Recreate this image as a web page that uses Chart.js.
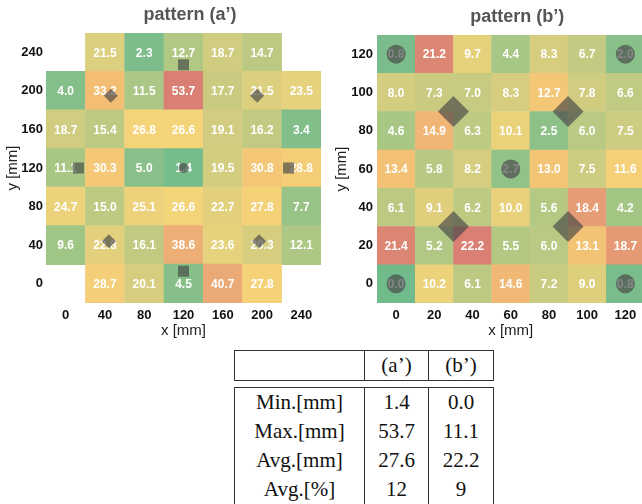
<!DOCTYPE html>
<html>
<head>
<meta charset="utf-8">
<script src="https://cdn.jsdelivr.net/npm/chart.js@4.4.1/dist/chart.umd.min.js"></script>
<style>
  html, body { margin: 0; padding: 0; background: #fff; overflow: hidden; width: 642px; height: 504px; }
  .panel { position: absolute; top: 0; }
  #wrapA { left: 0; width: 330px; height: 345px; }
  #wrapB { left: 320px; width: 340px; height: 345px; }
  table { position: absolute; border-collapse: collapse; font-family: "Liberation Serif", "DejaVu Serif", serif; font-size: 21px; color: #111; }
  td { border-left: 1.5px solid #333; border-right: 1.5px solid #333; text-align: center; padding: 0; height: 29px; line-height: 29px; }
  #tblHead { left: 234px; top: 350px; border: 1.5px solid #333; }
  #tblBody { left: 234px; top: 387px; border: 1.5px solid #333; }
</style>
</head>
<body>
<div class="panel" id="wrapA"><canvas id="chartA"></canvas></div>
<div class="panel" id="wrapB"><canvas id="chartB"></canvas></div>
<table id="tblHead"><tbody id="headRow"></tbody></table>
<table id="tblBody"><tbody id="bodyRows"></tbody></table>

<script>
// pattern (a') - cuadricula de 40 mm
const xTicksA = [0, 40, 80, 120, 160, 200, 240];
const yTicksA = [240, 200, 160, 120, 80, 40, 0];
const valoresA = [
  [null, 21.5, 2.3, 12.7, 18.7, 14.7, null],
  [4.0, 33.2, 11.5, 53.7, 17.7, 21.5, 23.5],
  [18.7, 15.4, 26.8, 26.6, 19.1, 16.2, 3.4],
  [11.1, 30.3, 5.0, 1.4, 19.5, 30.8, 28.8],
  [24.7, 15.0, 25.1, 26.6, 22.7, 27.8, 7.7],
  [9.6, 22.8, 16.1, 38.6, 23.6, 20.3, 12.1],
  [null, 28.7, 20.1, 4.5, 40.7, 27.8, null]
];
const cuadradosA = [{x: 120, y: 227}, {x: 120, y: 13}, {x: 13, y: 120}, {x: 227, y: 120}];
const circulosA = [{x: 120, y: 120}];
const rombosA = [{x: 46, y: 195}, {x: 195, y: 195}, {x: 44, y: 44}, {x: 197, y: 44}];

// pattern (b') - cuadricula de 20 mm
const xTicksB = [0, 20, 40, 60, 80, 100, 120];
const yTicksB = [120, 100, 80, 60, 40, 20, 0];
const valoresB = [
  [0.8, 21.2, 9.7, 4.4, 8.3, 6.7, 2.0],
  [8.0, 7.3, 7.0, 8.3, 12.7, 7.8, 6.6],
  [4.6, 14.9, 6.3, 10.1, 2.5, 6.0, 7.5],
  [13.4, 5.8, 8.2, 2.7, 13.0, 7.5, 11.6],
  [6.1, 9.1, 6.2, 10.0, 5.6, 18.4, 4.2],
  [21.4, 5.2, 22.2, 5.5, 6.0, 13.1, 18.7],
  [0.0, 10.2, 6.1, 14.6, 7.2, 9.0, 0.8]
];
const circulosB = [{x: 0, y: 120}, {x: 120, y: 120}, {x: 60, y: 60}, {x: 0, y: 0}, {x: 120, y: 0}];
const rombosB = [{x: 30, y: 90}, {x: 90, y: 90}, {x: 30, y: 30}, {x: 90, y: 30}];

// tabla resumen
const filasTabla = ['Min.[mm]', 'Max.[mm]', 'Avg.[mm]', 'Avg.[%]'];
const columnasTabla = ['(a’)', '(b’)'];
const resumenA = ['1.4', '53.7', '27.6', '12'];
const resumenB = ['0.0', '11.1', '22.2', '9'];

// Mapa de color verde -> amarillo -> rojo
const paradas = [
  [0.0, [112, 186, 140]],
  [0.2, [166, 199, 133]],
  [0.35, [208, 204, 128]],
  [0.5, [245, 212, 121]],
  [0.62, [243, 190, 116]],
  [0.75, [236, 170, 118]],
  [1.0, [217, 127, 115]]
];
function colorMapa(t) {
  t = Math.max(0, Math.min(1, t));
  for (let i = 1; i < paradas.length; i++) {
    if (t <= paradas[i][0]) {
      const [t0, c0] = paradas[i - 1];
      const [t1, c1] = paradas[i];
      const f = (t - t0) / (t1 - t0);
      const c = c0.map((v, k) => Math.round(v + (c1[k] - v) * f));
      return `rgb(${c[0]}, ${c[1]}, ${c[2]})`;
    }
  }
  return 'rgb(217, 127, 115)';
}

function celdas(xs, ys, valores) {
  const out = [];
  valores.forEach((fila, i) => {
    fila.forEach((v, j) => {
      if (v !== null) out.push({x: xs[j], y: ys[i], v: v});
    });
  });
  return out;
}

const grisMarca = 'rgba(70, 70, 70, 0.66)';

// Etiquetas de valor dentro de cada celda
const etiquetasCeldas = {
  id: 'etiquetasCeldas',
  afterDatasetDraw(chart, args) {
    if (args.index !== 0) return;
    const ctx = chart.ctx;
    ctx.save();
    ctx.font = 'bold 12px "Liberation Sans", Arial, sans-serif';
    ctx.fillStyle = '#ffffff';
    ctx.textAlign = 'center';
    ctx.textBaseline = 'middle';
    const datos = chart.data.datasets[0].data;
    args.meta.data.forEach((pt, i) => {
      ctx.fillText(datos[i].v.toFixed(1), pt.x, pt.y + 1);
    });
    ctx.restore();
  }
};

// El titulo queda un poco a la derecha del centro del area
const desplazarTitulo = {
  id: 'desplazarTitulo',
  afterLayout(chart) {
    if (chart.titleBlock) {
      chart.titleBlock.left += 6.5;
      chart.titleBlock.right += 6.5;
    }
  }
};

function crearMapa(id, cfg) {
  const datosCeldas = celdas(cfg.xTicks, cfg.yTicks, cfg.valores);
  const vmax = Math.max(...datosCeldas.map(d => d.v));
  const paso = cfg.xTicks[1] - cfg.xTicks[0];
  const min = cfg.xTicks[0] - paso / 2;
  const max = cfg.xTicks[cfg.xTicks.length - 1] + paso / 2;

  const datasets = [{
    label: 'celdas',
    data: datosCeldas,
    order: 10,
    pointStyle: 'rect',
    backgroundColor: datosCeldas.map(d => colorMapa(d.v / vmax)),
    borderWidth: 0,
    radius: function(context) {
      const c = context.chart;
      const sx = c.scales.x, sy = c.scales.y;
      if (!sx || !sy) return 0;
      const w = Math.abs(sx.getPixelForValue(paso) - sx.getPixelForValue(0));
      const h = Math.abs(sy.getPixelForValue(paso) - sy.getPixelForValue(0));
      return (Math.max(w, h) + 0.4) / Math.SQRT2;
    }
  }];
  cfg.marcas.forEach(m => {
    datasets.push({
      label: m.estilo,
      data: m.datos,
      order: 0,
      pointStyle: m.estilo,
      radius: m.radio,
      backgroundColor: grisMarca,
      borderWidth: 0
    });
  });

  const ticksFijos = lista => function(scale) {
    scale.ticks = lista.map(v => ({value: v}));
  };

  return new Chart(document.getElementById(id), {
    type: 'scatter',
    data: {datasets: datasets},
    plugins: [etiquetasCeldas, desplazarTitulo],
    options: {
      responsive: true,
      maintainAspectRatio: false,
      animation: false,
      events: [],
      layout: {padding: cfg.padding},
      plugins: {
        legend: {display: false},
        tooltip: {enabled: false},
        title: {
          display: true,
          fullSize: false,
          text: cfg.titulo,
          color: '#555555',
          font: {family: '"Liberation Sans", Arial, sans-serif', size: 18, weight: 'bold'},
          padding: cfg.tituloPadding
        }
      },
      scales: {
        x: {
          type: 'linear',
          min: min, max: max,
          grid: {display: false, drawTicks: false},
          border: {display: false},
          afterBuildTicks: ticksFijos(cfg.xTicks),
          afterFit: s => { s.height = 40; },
          ticks: {
            padding: 5,
            color: '#111',
            font: {family: '"Liberation Sans", Arial, sans-serif', size: 13, weight: 'bold'}
          },
          title: {
            display: true, text: 'x [mm]', color: '#222',
            font: {family: '"Liberation Sans", Arial, sans-serif', size: 15},
            padding: {top: 0, bottom: 3}
          }
        },
        y: {
          type: 'linear',
          min: min, max: max,
          grid: {display: false, drawTicks: false},
          border: {display: false},
          afterBuildTicks: ticksFijos(cfg.yTicks),
          afterFit: s => { s.width = cfg.anchoY; },
          ticks: {
            padding: cfg.ticksPadY,
            color: '#111',
            font: {family: '"Liberation Sans", Arial, sans-serif', size: 13, weight: 'bold'}
          },
          title: {
            display: true, text: 'y [mm]', color: '#222',
            font: {family: '"Liberation Sans", Arial, sans-serif', size: 15},
            padding: {top: cfg.tituloYPad, bottom: 0}
          }
        }
      }
    }
  });
}

crearMapa('chartA', {
  titulo: 'pattern (a’)',
  xTicks: xTicksA, yTicks: yTicksA, valores: valoresA,
  padding: {left: 0, right: 9, top: 0, bottom: 2},
  tituloPadding: {top: 4, bottom: 7.4},
  anchoY: 46, ticksPadY: 3, tituloYPad: 4,
  marcas: [
    {estilo: 'rect', datos: cuadradosA, radio: 7.8},
    {estilo: 'circle', datos: circulosA, radio: 5},
    {estilo: 'rectRot', datos: rombosA, radio: 7}
  ]
});

crearMapa('chartB', {
  titulo: 'pattern (b’)',
  xTicks: xTicksB, yTicks: yTicksB, valores: valoresB,
  padding: {left: 0, right: 11, top: 0, bottom: 2},
  tituloPadding: {top: 6, bottom: 7.4},
  anchoY: 57, ticksPadY: 4, tituloYPad: 13,
  marcas: [
    {estilo: 'circle', datos: circulosB, radio: 9.5},
    {estilo: 'rectRot', datos: rombosB, radio: 15.5}
  ]
});

// Tabla resumen como texto HTML
const anchos = [129, 63, 64];
const cabecera = document.getElementById('headRow');
const trh = document.createElement('tr');
['', ...columnasTabla].forEach((t, i) => {
  const td = document.createElement('td');
  td.textContent = t;
  td.style.width = anchos[i] + 'px';
  trh.appendChild(td);
});
cabecera.appendChild(trh);

const cuerpo = document.getElementById('bodyRows');
filasTabla.forEach((f, i) => {
  const tr = document.createElement('tr');
  [f, resumenA[i], resumenB[i]].forEach((t, k) => {
    const td = document.createElement('td');
    td.textContent = t;
    td.style.width = anchos[k] + 'px';
    tr.appendChild(td);
  });
  cuerpo.appendChild(tr);
});
</script>
</body>
</html>
